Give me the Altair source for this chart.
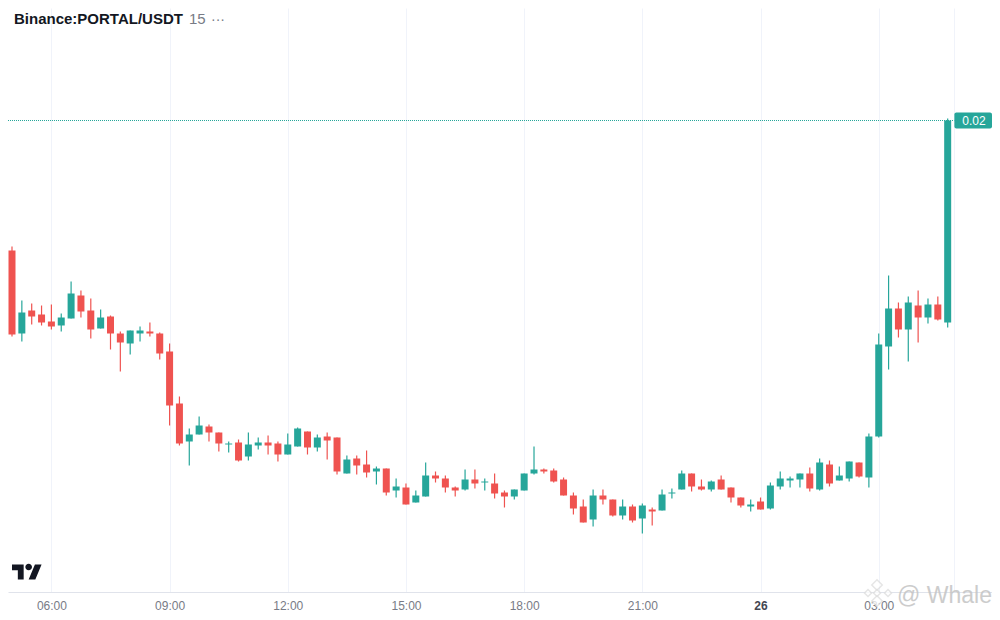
import altair as alt
import pandas as pd

# Prices in hundred-thousandths of a USDT
opens = [1870,1787,1810,1806,1799,1795,1802,1825,1810,1792,
         1804,1787,1777,1787,1789,1787,1769,1717,1679,1686,
         1694,1688,1676,1678,1664,1675,1678,1677,1666,1674,
         1689,1673,1684,1683,1647,1662,1656,1649,1652,1630,
         1633,1618,1624,1645,1642,1633,1631,1641,1638,1637,
         1628,1624,1630,1647,1651,1650,1641,1625,1614,1601,
         1625,1621,1605,1614,1602,1611,1610,1627,1631,1647,
         1634,1631,1641,1633,1623,1614,1619,1612,1634,1640,
         1641,1647,1631,1656,1640,1642,1658,1643,1684,1774,
         1812,1791,1815,1803,1816,1798]
closes = [1786,1808,1804,1798,1794,1803,1827,1809,1791,1803,
          1787,1778,1790,1790,1787,1767,1715,1677,1686,1695,
          1688,1677,1677,1660,1676,1678,1675,1666,1676,1692,
          1673,1683,1680,1649,1661,1655,1648,1652,1628,1634,
          1616,1625,1645,1642,1633,1630,1641,1637,1639,1627,
          1624,1631,1647,1651,1649,1639,1625,1612,1598,1625,
          1621,1605,1614,1600,1615,1609,1626,1628,1647,1634,
          1631,1639,1631,1623,1615,1616,1611,1635,1642,1642,
          1647,1632,1658,1637,1645,1659,1644,1684,1776,1812,
          1791,1818,1803,1816,1801,2000]
highs = [1874,1820,1817,1815,1816,1807,1839,1830,1822,1811,
         1805,1789,1790,1794,1798,1788,1777,1724,1692,1704,
         1696,1688,1679,1681,1688,1683,1685,1679,1687,1693,
         1689,1686,1688,1683,1665,1665,1670,1654,1652,1642,
         1637,1630,1658,1649,1645,1634,1651,1651,1642,1647,
         1630,1631,1647,1674,1652,1652,1643,1628,1621,1631,
         1631,1621,1621,1616,1617,1613,1631,1632,1650,1647,
         1641,1640,1645,1633,1623,1621,1623,1638,1649,1644,
         1647,1653,1662,1660,1654,1659,1658,1687,1787,1845,
         1818,1824,1830,1822,1824,2002]
lows = [1784,1779,1796,1795,1791,1789,1802,1803,1782,1792,
        1771,1749,1766,1779,1784,1761,1695,1675,1655,1686,
        1679,1669,1668,1659,1660,1671,1666,1659,1666,1674,
        1666,1669,1661,1646,1647,1646,1643,1636,1625,1623,
        1616,1618,1624,1638,1628,1624,1630,1632,1630,1622,
        1613,1621,1630,1646,1647,1638,1625,1606,1598,1594,
        1616,1604,1601,1598,1587,1595,1610,1622,1631,1629,
        1630,1629,1631,1618,1613,1609,1611,1611,1631,1633,
        1633,1629,1630,1634,1640,1639,1643,1633,1683,1751,
        1783,1759,1778,1797,1800,1793]

tick_slots = [4, 16, 28, 40, 52, 64, 76, 88]
tick_labels = ["06:00", "09:00", "12:00", "15:00", "18:00", "21:00", "26", "03:00"]
bold_slot = 76
last_grid = 95.68
last_price = 0.02
price_label = "0.02"
symbol = "Binance:PORTAL/USDT"
interval = "15"
more = "···"
watermark = "@ Whale"

GREEN, RED = "#26a69a", "#ef5350"
x_max = 99.50
x_scale = alt.Scale(domain=[-0.406, x_max], nice=False, zero=False, padding=0)
y_scale = alt.Scale(domain=[0.015285, 0.021125], nice=False, zero=False, padding=0)

df = pd.DataFrame({
    "slot": range(len(opens)),
    "open": [v / 1e5 for v in opens],
    "close": [v / 1e5 for v in closes],
    "high": [v / 1e5 for v in highs],
    "low": [v / 1e5 for v in lows],
})
df["dir"] = ["up" if c >= o else "down" for o, c in zip(opens, closes)]
color = alt.Color("dir:N", scale=alt.Scale(domain=["up", "down"], range=[GREEN, RED]), legend=None)

label_map = ",".join(f"'{s}':'{t}'" for s, t in zip(tick_slots, tick_labels))
x_axis = alt.Axis(
    values=tick_slots + [last_grid],
    labelExpr="({" + label_map + "})[datum.value] || ''",
    grid=True, gridColor="#f0f3fa", gridWidth=1,
    ticks=False, domain=True, domainColor="#e0e3eb", title=None,
    labelFont="Liberation Sans", labelFontSize=12,
    labelColor={"condition": {"test": f"datum.value === {bold_slot}", "value": "#434651"}, "value": "#787b86"},
    labelPadding=8, labelFlush=False, labelOverlap=False,
    labelFontWeight={"condition": {"test": f"datum.value === {bold_slot}", "value": "bold"}, "value": "normal"},
)
X = lambda f: alt.X(f, scale=x_scale, axis=x_axis, title=None)
Y = lambda f: alt.Y(f, scale=y_scale, axis=None)

wicks = alt.Chart(df).mark_rule(strokeWidth=1.2).encode(
    x=X("slot:Q"), y=Y("low:Q"), y2="high:Q", color=color,
)
bodies = alt.Chart(df).mark_bar(size=7).encode(
    x=X("slot:Q"), y=Y("open:Q"), y2="close:Q", color=color,
)

line_df = pd.DataFrame({"a": [x_scale.domain[0]], "b": [last_grid], "p": [last_price],
                        "pt": [last_price + 0.00008], "pb": [last_price - 0.00008],
                        "r": [x_max], "t": [price_label], "mid": [97.67]})
price_line = alt.Chart(line_df).mark_rule(color=GREEN, strokeWidth=1, strokeDash=[1, 1]).encode(
    x=X("a:Q"), x2="b:Q", y=Y("p:Q"),
)
price_box = alt.Chart(line_df).mark_rect(color=GREEN, cornerRadius=2).encode(
    x=X("b:Q"), x2="r:Q", y=Y("pt:Q"), y2="pb:Q",
)
price_text = alt.Chart(line_df).mark_text(color="#ffffff", font="Liberation Sans", fontSize=12).encode(
    x=X("mid:Q"), y=Y("p:Q"), text="t:N",
)

def caption(text, x, y, **kw):
    return alt.Chart(pd.DataFrame({"t": [text]})).mark_text(
        align="left", baseline="alphabetic", font="Liberation Sans", **kw
    ).encode(text="t:N", x=alt.value(x), y=alt.value(y))

title_a = caption(symbol, 6, 16, fontSize=15, fontWeight="bold", color="#131722")
title_b = caption(interval, 181, 16, fontSize=15, color="#787b86")
title_c = caption(more, 203, 16, fontSize=14, color="#787b86")

logo_path = ("M-0.222 0.5 H-0.611 V-0.111 H-1 V-0.5 H-0.222 Z "
             "M0.556 0.5 H0.111 L0.528 -0.5 H0.972 Z "
             "M-0.111 -0.333 a0.222 0.222 0 1 0 0.444 0 a0.222 0.222 0 1 0 -0.444 0 Z")
logo = alt.Chart(pd.DataFrame({"k": [0]})).mark_point(
    shape=logo_path, filled=True, color="#131722", size=900, opacity=1
).encode(x=alt.value(19), y=alt.value(564))

# Watermark in the lower right corner
mark_parts = pd.DataFrame({"px": [869, 860, 880, 869, 869], "py": [577, 585, 585, 585, 593],
                           "s": [110, 50, 50, 50, 110]})
icon = alt.Chart(mark_parts).mark_point(
    shape="diamond", filled=True, fill="#ffffff", stroke="#dedede", strokeWidth=1.5, opacity=0.75
).encode(x=alt.X("px:Q", scale=None, axis=None), y=alt.Y("py:Q", scale=None, axis=None),
         size=alt.Size("s:Q", scale=None, legend=None))
wm = caption(watermark, 889, 595, fontSize=23, color="#c4c4c4", opacity=0.85)

chart = alt.layer(
    wicks, bodies, price_line, price_box, price_text,
    title_a, title_b, title_c, logo, icon, wm,
).properties(
    width=984, height=584, background="white",
    padding={"left": 0, "top": 0, "right": 0, "bottom": 20},
    autosize=alt.AutoSizeParams(type="none"),
).configure_view(stroke=None)

chart.save("out.html", embed_options={"renderer": "svg", "actions": False})
